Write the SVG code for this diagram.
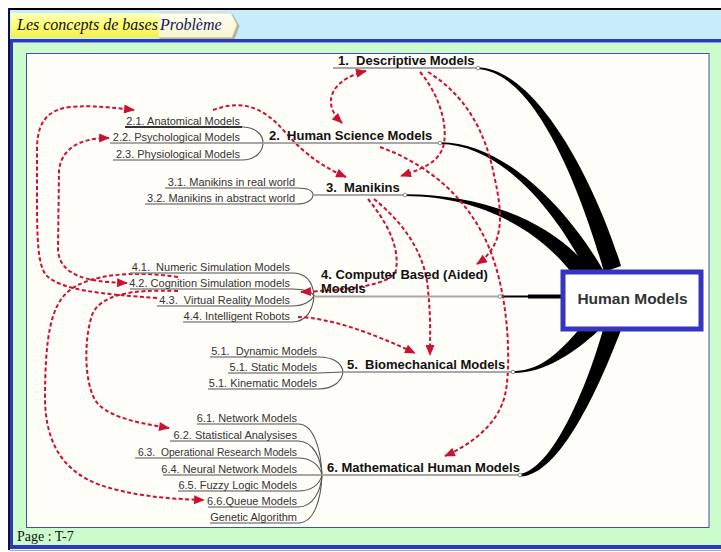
<svg xmlns="http://www.w3.org/2000/svg" width="721" height="552" viewBox="0 0 721 552">
<defs>
<style>
.sub{font-family:"Liberation Sans",Arial,sans-serif;font-size:11px;fill:#333;text-anchor:end}
.main{font-family:"Liberation Sans",Arial,sans-serif;font-size:13px;font-weight:bold;fill:#111}
.ul{stroke:#8a8a8a;stroke-width:1.6;fill:none}
.mul{stroke:#a8a8a8;stroke-width:2;fill:none}
.br{stroke:#555;stroke-width:1.1;fill:none}
.fan{fill:#000}
.red{stroke:#cc1034;stroke-width:2;stroke-dasharray:4 2.5;fill:none}
.tab{font-family:"Liberation Serif","Times New Roman",serif;font-size:16px;font-style:italic}
.jn{fill:#fff;stroke:#888;stroke-width:1}
</style>
<marker id="ah" viewBox="0 0 12 10" refX="11" refY="5" markerWidth="12" markerHeight="9" markerUnits="userSpaceOnUse" orient="auto-start-reverse">
<path d="M0,0 L12,5 L0,10 z" fill="#cc1034"/>
</marker>
<linearGradient id="yel" x1="0" y1="0" x2="0" y2="1">
<stop offset="0" stop-color="#ffffc8"/>
<stop offset="0.45" stop-color="#ffff70"/>
<stop offset="1" stop-color="#f4f050"/>
</linearGradient>
<linearGradient id="pale" x1="0" y1="0" x2="0" y2="1">
<stop offset="0" stop-color="#fffff4"/>
<stop offset="1" stop-color="#f6f4d0"/>
</linearGradient>
</defs>

<!-- page frame -->
<g id="frame">
<rect x="0" y="0" width="721" height="552" fill="#ffffff"/>
<rect x="10" y="10" width="711" height="29" fill="#c8ecfc"/>
<rect x="10" y="39" width="711" height="510" fill="#2c3cb8"/>
<rect x="13" y="42" width="708" height="503" fill="#8c9ae4"/>
<rect x="13" y="43" width="708" height="502" fill="#ccfccc"/>
<line x1="8" y1="9" x2="721" y2="9" stroke="#000" stroke-width="2"/>
<line x1="9" y1="8" x2="9" y2="550" stroke="#101040" stroke-width="2"/>
<line x1="10" y1="550.5" x2="721" y2="550.5" stroke="#9aa4e0" stroke-width="1"/>
<rect x="26.5" y="53.5" width="682.5" height="474" fill="#fffdf8" stroke="#4050b0" stroke-width="1"/>
<text x="17" y="541" font-family="'Liberation Serif','Times New Roman',serif" font-size="14" fill="#111">Page : T-7</text>
</g>

<!-- header tabs -->
<g id="header">
<path d="M158,13 L231,13 L238,25 L233,38 L158,38 Z" fill="#b0b0a0" transform="translate(1.5,1)"/>
<path d="M158,13 L231,13 L237,25 L232,37.5 L158,37.5 Z" fill="url(#pale)" stroke="#d8d4a0" stroke-width="0.8"/>
<rect x="11" y="13" width="148" height="24.5" fill="url(#yel)"/>
<text class="tab" x="17" y="30" fill="#0c0c28">Les concepts de bases</text>
<text class="tab" x="160" y="30" fill="#14145a">Problème</text>
</g>

<!-- connectors -->
<g id="connectors">
<!-- black fan to Human Models -->
<path class="fan" d="M476,67.2 C540,66.6 600,196 621,266 L604,272 C585,205 538,69.6 476,69 Z"/>
<path class="fan" d="M440,142.2 C505,141.6 570,212 603,270 L588,275 C560,218 505,144.6 440,144 Z"/>
<path class="fan" d="M405,194.2 C480,194 550,220 589,268 L574,276 C540,230 480,196.2 405,196 Z"/>
<line x1="500" y1="296.5" x2="530" y2="296.5" stroke="#000" stroke-width="2"/>
<line x1="528" y1="296.5" x2="562" y2="296.5" stroke="#000" stroke-width="4"/>
<path class="fan" d="M513,371.2 C545,371 565,345 583,325 L598,331 C575,352 545,373.2 513,373 Z"/>
<path class="fan" d="M520,474 C555,468 590,378 604,326 L621,330 C600,385 560,476.2 520,476.5 Z"/>

<!-- brackets -->
<path class="br" d="M242,127 C256,127 263,135 263,143"/>
<path class="br" d="M242,160 C256,160 263,151 263,143"/>
<path class="br" d="M297,188 C308,188 313,191 313,195"/>
<path class="br" d="M297,204 C308,204 313,199 313,195"/>
<path class="br" d="M292,273 C307,273 313,283 314,296"/>
<path class="br" d="M292,289 C305,289 312,292 314,296"/>
<path class="br" d="M292,306 C305,306 312,300 314,296"/>
<path class="br" d="M292,322 C307,322 313,309 314,296"/>
<path class="br" d="M318,357 C335,357 342,364 343,372"/>
<path class="br" d="M318,373 L343,372"/>
<path class="br" d="M318,389 C335,389 342,380 343,372"/>
<path class="br" d="M298,424 C314,424 321,450 322,475"/>
<path class="br" d="M298,441 C313,441 321,458 322,475"/>
<path class="br" d="M298,458 C312,458 320,466 322,475"/>
<path class="br" d="M298,491 C312,491 320,484 322,475"/>
<path class="br" d="M298,507 C313,507 321,491 322,475"/>
<path class="br" d="M298,523 C314,523 321,500 322,475"/>

<!-- red dashed relations -->
<path class="red" marker-start="url(#ah)" marker-end="url(#ah)" d="M366,71 C336,78 318,100 342,123"/>
<path class="red" marker-end="url(#ah)" d="M213,110 C240,100 262,105 285,132 C305,155 325,168 346,177"/>
<path class="red" marker-end="url(#ah)" d="M420,72 C440,95 450,130 442,150 C435,165 418,170 401,176"/>
<path class="red" marker-end="url(#ah)" d="M428,72 C465,95 485,130 494,175 C503,215 505,245 477,264"/>
<path class="red" marker-end="url(#ah)" d="M380,147 C430,165 470,200 490,250 C510,300 511,370 505,395 C498,425 470,445 445,456"/>
<path class="red" marker-end="url(#ah)" d="M368,199 C385,220 400,245 396,270 C392,285 350,290 301,292"/>
<path class="red" marker-end="url(#ah)" d="M374,199 C400,220 425,250 428,290 C431,320 430,335 430,355"/>
<path class="red" marker-end="url(#ah)" d="M298,317 C330,318 370,332 415,353"/>
<path class="red" marker-end="url(#ah)" d="M157,298 C100,294 60,290 46,275 C38,265 37,240 37,200 L37,150 C37,125 45,110 70,107 C95,105 115,108 134,110"/>
<path class="red" marker-start="url(#ah)" marker-end="url(#ah)" d="M109,138 C80,138 62,148 59,170 L58,250 C60,275 85,282 127,283"/>
<path class="red" marker-end="url(#ah)" d="M178,277 C130,270 90,275 70,290 C50,305 45,340 45,400 C46,440 60,470 100,485 C130,495 165,499 204,500"/>
<path class="red" marker-end="url(#ah)" d="M178,291 C130,289 100,295 92,315 C84,340 84,380 95,400 C105,415 130,422 169,428"/>
</g>

<!-- main nodes -->
<g id="n1">
<line class="mul" x1="333" y1="68" x2="478" y2="68"/>
<circle class="jn" cx="478" cy="68" r="1.8"/>
<text class="main" x="338" y="64.5" xml:space="preserve">1.  Descriptive Models</text>
</g>
<g id="n2">
<line class="mul" x1="263" y1="143" x2="440" y2="143"/>
<circle class="jn" cx="440" cy="143" r="1.8"/>
<text class="main" x="269" y="140" xml:space="preserve">2.  Human Science Models</text>
</g>
<g id="n3">
<line class="mul" x1="313" y1="195" x2="405" y2="195"/>
<circle class="jn" cx="405" cy="195" r="1.8"/>
<text class="main" x="326" y="191.5" xml:space="preserve">3.  Manikins</text>
</g>
<g id="n4">
<line class="mul" x1="314" y1="296.5" x2="500" y2="296.5"/>
<circle class="jn" cx="500" cy="296.5" r="1.8"/>
<text class="main" x="321" y="279">4. Computer Based (Aided)</text>
<text class="main" x="321" y="293">Models</text>
</g>
<g id="n5">
<line class="mul" x1="343" y1="372" x2="513" y2="372"/>
<circle class="jn" cx="513" cy="372" r="1.8"/>
<text class="main" x="347" y="368.5" xml:space="preserve">5.  Biomechanical Models</text>
</g>
<g id="n6">
<line class="mul" x1="322" y1="475" x2="520" y2="475"/>
<circle class="jn" cx="520" cy="475" r="1.8"/>
<text class="main" x="327" y="471.5">6. Mathematical Human Models</text>
</g>

<!-- sub nodes -->
<g id="n2-1"><line x1="125" y1="127" x2="242" y2="127" stroke="#333" stroke-width="1.8"/><text class="sub" x="240" y="124.5">2.1. Anatomical Models</text></g>
<g id="n2-2"><line class="ul" x1="110" y1="143" x2="263" y2="143"/><text class="sub" x="240" y="140.5">2.2. Psychological Models</text></g>
<g id="n2-3"><line class="ul" x1="113" y1="160" x2="242" y2="160"/><text class="sub" x="240" y="157.5">2.3. Physiological Models</text></g>
<g id="n3-1"><line class="ul" x1="165" y1="188" x2="297" y2="188"/><text class="sub" x="295" y="185.5">3.1. Manikins in real world</text></g>
<g id="n3-2"><line class="ul" x1="145" y1="204" x2="297" y2="204"/><text class="sub" x="295" y="201.5">3.2. Manikins in abstract world</text></g>
<g id="n4-1"><line class="ul" x1="130" y1="273" x2="292" y2="273"/><text class="sub" x="290" y="270.5" xml:space="preserve">4.1.  Numeric Simulation Models</text></g>
<g id="n4-2"><line class="ul" x1="130" y1="289" x2="292" y2="289"/><text class="sub" x="290" y="286.5">4.2. Cognition Simulation models</text></g>
<g id="n4-3"><line class="ul" x1="157" y1="306" x2="292" y2="306"/><text class="sub" x="290" y="303.5" xml:space="preserve">4.3.  Virtual Reality Models</text></g>
<g id="n4-4"><line class="ul" x1="183" y1="322" x2="292" y2="322"/><text class="sub" x="290" y="319.5">4.4. Intelligent Robots</text></g>
<g id="n5-1"><line class="ul" x1="210" y1="357" x2="318" y2="357"/><text class="sub" x="317" y="354.5" xml:space="preserve">5.1.  Dynamic Models</text></g>
<g id="n5-2"><line class="ul" x1="228" y1="373" x2="318" y2="373"/><text class="sub" x="317" y="370.5">5.1. Static Models</text></g>
<g id="n5-3"><line class="ul" x1="208" y1="389" x2="318" y2="389"/><text class="sub" x="317" y="386.5">5.1. Kinematic Models</text></g>
<g id="n6-1"><line class="ul" x1="197" y1="424" x2="298" y2="424"/><text class="sub" x="297" y="421.5">6.1. Network Models</text></g>
<g id="n6-2"><line class="ul" x1="170" y1="441" x2="298" y2="441"/><text class="sub" x="297" y="438.5">6.2. Statistical Analysises</text></g>
<g id="n6-3"><line class="ul" x1="135" y1="458" x2="298" y2="458"/><text class="sub" x="297" y="455.5" xml:space="preserve" textLength="159" lengthAdjust="spacingAndGlyphs">6.3.  Operational Research Models</text></g>
<g id="n6-4"><line class="ul" x1="163" y1="475" x2="322" y2="475"/><text class="sub" x="297" y="472.5">6.4. Neural Network Models</text></g>
<g id="n6-5"><line class="ul" x1="178" y1="491" x2="298" y2="491"/><text class="sub" x="297" y="488.5">6.5. Fuzzy Logic Models</text></g>
<g id="n6-6"><line class="ul" x1="208" y1="507" x2="298" y2="507"/><text class="sub" x="297" y="504.5">6.6.Queue Models</text></g>
<g id="n6-7"><line class="ul" x1="210" y1="523" x2="298" y2="523"/><text class="sub" x="297" y="520.5">Genetic Algorithm</text></g>

<!-- root -->
<g id="human-models">
<rect x="563" y="272" width="138" height="57" fill="#ffffff" stroke="#3535c0" stroke-width="5"/>
<text x="632.5" y="304" text-anchor="middle" font-family="'Liberation Sans',Arial,sans-serif" font-size="15.5" font-weight="bold" fill="#333">Human Models</text>
</g>
</svg>
